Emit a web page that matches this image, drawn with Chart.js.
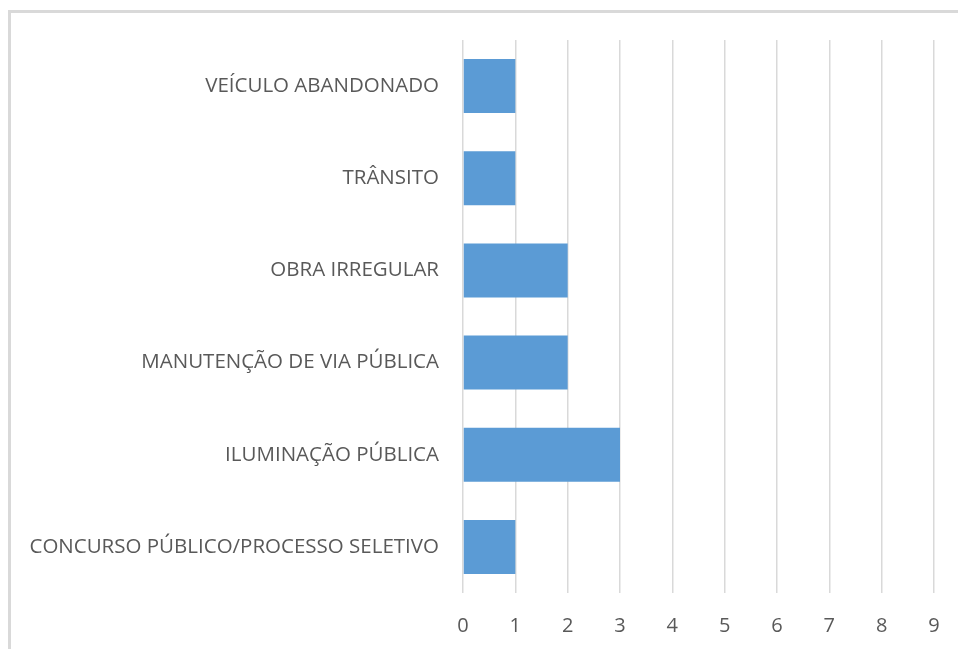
<!DOCTYPE html>
<html>
<head>
<meta charset="utf-8">
<script src="https://cdn.jsdelivr.net/npm/chart.js@4/dist/chart.umd.min.js"></script>
<style>
  html, body { margin: 0; padding: 0; background: #fff; overflow: hidden; }
  #wrap { position: relative; width: 958px; height: 649px; }
  #frame { position: absolute; left: 8px; top: 10px; width: 1000px; height: 700px;
           border-left: 3px solid #d9d9d9; border-top: 3px solid #d9d9d9; pointer-events: none; }
</style>
</head>
<body>
<div id="wrap">
  <canvas id="myChart" width="958" height="649"></canvas>
  <div id="frame"></div>
</div>
<script>
// categorias (de cima para baixo)
const categories = [
    'VEÍCULO ABANDONADO',
    'TRÂNSITO',
    'OBRA IRREGULAR',
    'MANUTENÇÃO DE VIA PÚBLICA',
    'ILUMINAÇÃO PÚBLICA',
    'CONCURSO PÚBLICO/PROCESSO SELETIVO'
];
const counts = [1, 1, 2, 2, 3, 1];
const xTicks = [0, 1, 2, 3, 4, 5, 6, 7, 8, 9];

const ctx = document.getElementById('myChart').getContext('2d');
const myChart = new Chart(ctx, {
    type: 'bar',
    data: {
        labels: categories,
        datasets: [{
            data: counts,
            backgroundColor: '#5b9bd5',
            borderWidth: 0,
            barPercentage: 0.585,
            categoryPercentage: 1
        }]
    },
    options: {
        indexAxis: 'y',
        responsive: false,
        animation: false,
        layout: { padding: { top: 40, right: 24, left: 0, bottom: 0 } },
        plugins: { legend: { display: false }, tooltip: { enabled: false } },
        scales: {
            x: {
                min: xTicks[0],
                max: xTicks[xTicks.length - 1],
                ticks: {
                    stepSize: 1,
                    color: '#595959',
                    font: { family: 'Open Sans', size: 20 },
                    padding: 21
                },
                grid: { color: '#d9d9d9', lineWidth: 1.5, drawTicks: false },
                border: { display: false },
                afterFit: axis => { axis.height = 56; axis.paddingRight = 0; }
            },
            y: {
                ticks: {
                    color: '#595959',
                    font: { family: 'Open Sans', size: 20.5 },
                    padding: 16
                },
                grid: { display: false },
                border: { display: false },
                afterFit: axis => { axis.width = 463; }
            }
        }
    }
});
</script>
</body>
</html>
